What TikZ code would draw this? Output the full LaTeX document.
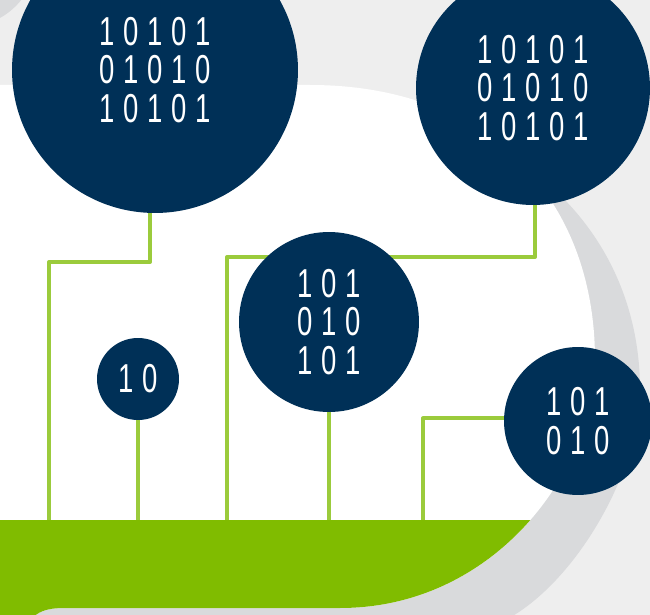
\documentclass[tikz,border=0pt]{standalone}
\usepackage{fontspec}
\newfontfamily\bitfont[FakeStretch=0.68,LetterSpace=22]{Liberation Sans}

\definecolor{navy}{HTML}{003057}
\definecolor{wiregreen}{HTML}{9BCB3C}
\definecolor{barfill}{HTML}{80BC00}
\definecolor{shadowgray}{HTML}{D9DADC}
\definecolor{bggray}{HTML}{EEEEEE}

\pgfdeclarelayer{back}
\pgfdeclarelayer{mid}
\pgfsetlayers{back,mid,main}

\begin{document}
\begin{tikzpicture}[x=0.02cm, y=-0.02cm,
    wire/.style={wiregreen, line width=0.08cm, line join=round},
    bits/.style={circle, fill=navy, text=white, inner sep=0pt, align=center,
        font=\bitfont\fontsize{23pt}{21.8pt}\selectfont}]
    \useasboundingbox (0,0) rectangle (650,615);

    % bits
    \node[bits, minimum size=5.72cm] (big) at (155,70) {10101\\01010\\10101};
    \node[bits, minimum size=4.68cm] (topright) at (533,88) {10101\\01010\\10101};
    \node[bits, minimum size=3.6cm] (middle) at (329,322) {101\\010\\101};
    \node[bits, minimum size=1.64cm] (small) at (138,379) {10};
    \node[bits, minimum size=2.96cm] (right) at (578,421) {101\\010};

    \begin{pgfonlayer}{back}
    \fill[bggray] (0,0) rectangle (650,615);
    \fill[shadowgray] (-35,-45) circle (72);
    % cloud with its shadow
    \fill[shadowgray] (-10,100) -- (300,100) .. controls (500,100) and (640,220) .. (640,390)
        .. controls (640,480) and (560,610) .. (480,630) -- (-10,630) -- cycle;
    \fill[white] (-10,85) -- (310,85) .. controls (490,85) and (595,200) .. (595,360)
        .. controls (595,470) and (495,608) .. (340,608) -- (65,608)
        .. controls (45,608) and (38,612) .. (30,620) -- (-10,620) -- cycle;
    \begin{scope}
        \clip (-10,85) -- (310,85) .. controls (490,85) and (595,200) .. (595,360)
            .. controls (595,470) and (495,608) .. (340,608) -- (65,608)
            .. controls (45,608) and (38,612) .. (30,620) -- (-10,620) -- cycle;
        \fill[barfill] (-10,520) rectangle (660,630);
    \end{scope}
    \end{pgfonlayer}

    \coordinate (b1) at (49,520);
    \coordinate (b2) at (138,520);
    \coordinate (b3) at (227,520);
    \coordinate (b4) at (329,520);
    \coordinate (b5) at (423,520);
    \coordinate (j1) at (49,262);
    \coordinate (j3) at (227,257);

    % wires
    \begin{pgfonlayer}{mid}
    \draw[wire] (big.-92) |- (j1) -- (b1);
    \draw[wire] (topright.-89) |- (j3) -- (b3);
    \draw[wire] (small.south) -- (b2);
    \draw[wire] (middle.south) -- (b4);
    \draw[wire] (right.178) -| (b5);
    \end{pgfonlayer}
\end{tikzpicture}
\end{document}
